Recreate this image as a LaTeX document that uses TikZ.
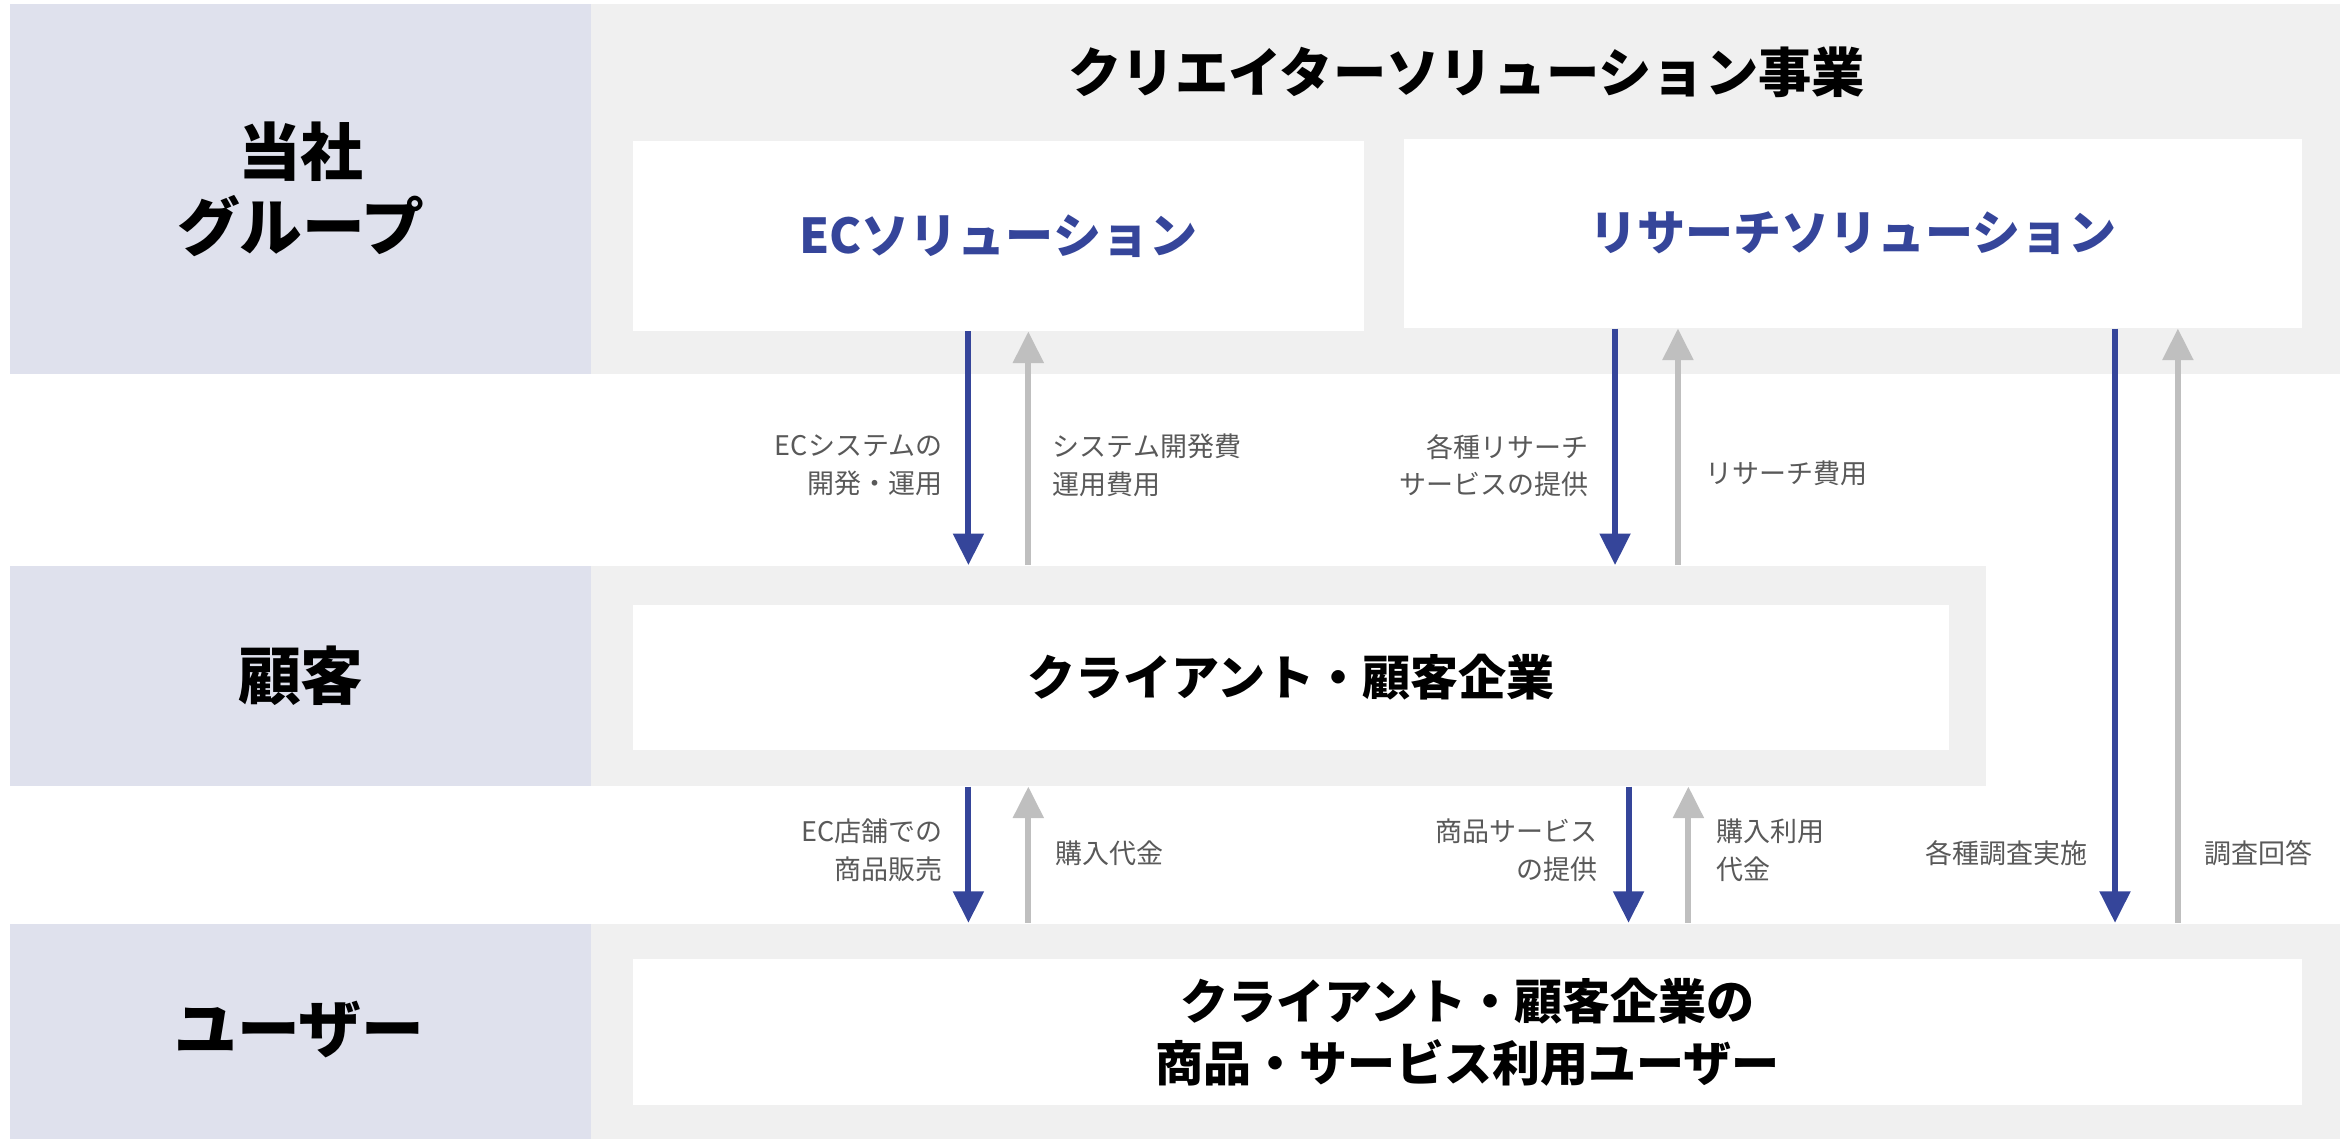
\documentclass[tikz,border=0pt]{standalone}
\usepackage{fontspec}
\setmainfont{Noto Sans CJK JP}
\usetikzlibrary{arrows.meta,fit}
\definecolor{lav}{HTML}{DFE1ED}
\definecolor{bandgray}{HTML}{F0F0F0}
\definecolor{navy}{HTML}{35459A}
\definecolor{arrgray}{HTML}{BFBFBF}
\definecolor{labgray}{HTML}{595959}
\begin{document}
\begin{tikzpicture}[x=0.015cm,y=-0.015cm,
  band/.style={inner sep=0pt, fill=bandgray},
  lavband/.style={inner sep=0pt, fill=lav},
  wbox/.style={inner sep=0pt, fill=white},
  bigtxt/.style={font=\fontsize{17.9}{21.3}\selectfont\bfseries, align=center, text=black},
  title/.style={font=\fontsize{15.2}{18}\selectfont\bfseries, text=black},
  head/.style={font=\fontsize{13.7}{17.5}\selectfont\bfseries, align=center},
  lab/.style={font=\fontsize{7.7}{10.7}\selectfont, text=labgray, inner sep=0pt},
  bluearr/.style={draw=navy, line width=1.7pt, -{Triangle[width=8.5pt,length=9pt]}},
  grayarr/.style={draw=arrgray, line width=1.7pt, -{Triangle[width=8.5pt,length=9pt]}}]
\useasboundingbox (0,0) rectangle (1568,761);
% bands
\node[lavband, fit={(7,3) (395,250)}] (topL) {};
\node[band, fit={(395,3) (1563,250)}] (topG) {};
\node[lavband, fit={(7,378) (395,525)}] (midL) {};
\node[band, fit={(395,378) (1327,525)}] (midG) {};
\node[lavband, fit={(7,617) (395,761)}] (botL) {};
\node[band, fit={(395,617) (1563,761)}] (botG) {};
% white boxes
\node[wbox, fit={(423,94) (911,221)}] (ec) {};
\node[wbox, fit={(938,93) (1538,219)}] (rs) {};
\node[wbox, fit={(423,404) (1302,501)}] (cl) {};
\node[wbox, fit={(423,641) (1538,738)}] (us) {};
% left labels
\node[bigtxt] (tL) at (topL.center) {当社\\グループ};
\node[bigtxt] (mL) at (midL.center) {顧客};
\node[bigtxt] (bL) at (200,688) {ユーザー};
% texts
\node[title] (ttl) at (980,48) {クリエイターソリューション事業};
\node[head, text=navy] (ect) at (ec.center) {ECソリューション};
\node[head, text=navy] (rst) at (rs.center) {リサーチソリューション};
\node[head, text=black] (clt) at (cl.center) {クライアント・顧客企業};
\node[head, text=black] (ust) at (us.center) {クライアント・顧客企業の\\商品・サービス利用ユーザー};
% x positions
\coordinate (xa) at (647,0);
\coordinate (xb) at (687,0);
\coordinate (xc) at (1079,0);
\coordinate (xd) at (1121,0);
\coordinate (xe) at (1413,0);
\coordinate (xf) at (1455,0);
\coordinate (xg) at (1088,0);
\coordinate (xh) at (1128,0);
% upper arrows
\draw[bluearr] (ec.south -| xa) -- (midG.north -| xa);
\draw[grayarr] (midG.north -| xb) -- (ec.south -| xb);
\draw[bluearr] (rs.south -| xc) -- (midG.north -| xc);
\draw[grayarr] (midG.north -| xd) -- (rs.south -| xd);
% long right arrows
\draw[bluearr] (rs.south -| xe) -- (botG.north -| xe);
\draw[grayarr] (botG.north -| xf) -- (rs.south -| xf);
% lower arrows
\draw[bluearr] (midG.south -| xa) -- (botG.north -| xa);
\draw[grayarr] (botG.north -| xb) -- (midG.south -| xb);
\draw[bluearr] (midG.south -| xg) -- (botG.north -| xg);
\draw[grayarr] (botG.north -| xh) -- (midG.south -| xh);
% arrow labels
\node[lab, anchor=east, align=right] (l1) at (630,311) {ECシステムの\\開発・運用};
\node[lab, anchor=west, align=left] (l2) at (703,311) {システム開発費\\運用費用};
\node[lab, anchor=east, align=right] (l3) at (1062,311) {各種リサーチ\\サービスの提供};
\node[lab, anchor=west, align=left] (l4) at (1139,316) {リサーチ費用};
\node[lab, anchor=east, align=right] (l5) at (630,568) {EC店舗での\\商品販売};
\node[lab, anchor=west, align=left] (l6) at (705,570) {購入代金};
\node[lab, anchor=east, align=right] (l7) at (1068,568) {商品サービス\\の提供};
\node[lab, anchor=west, align=left] (l8) at (1146,568) {購入利用\\代金};
\node[lab, anchor=east, align=right] (l9) at (1395,570) {各種調査実施};
\node[lab, anchor=west, align=left] (l10) at (1472,570) {調査回答};
\end{tikzpicture}
\end{document}
